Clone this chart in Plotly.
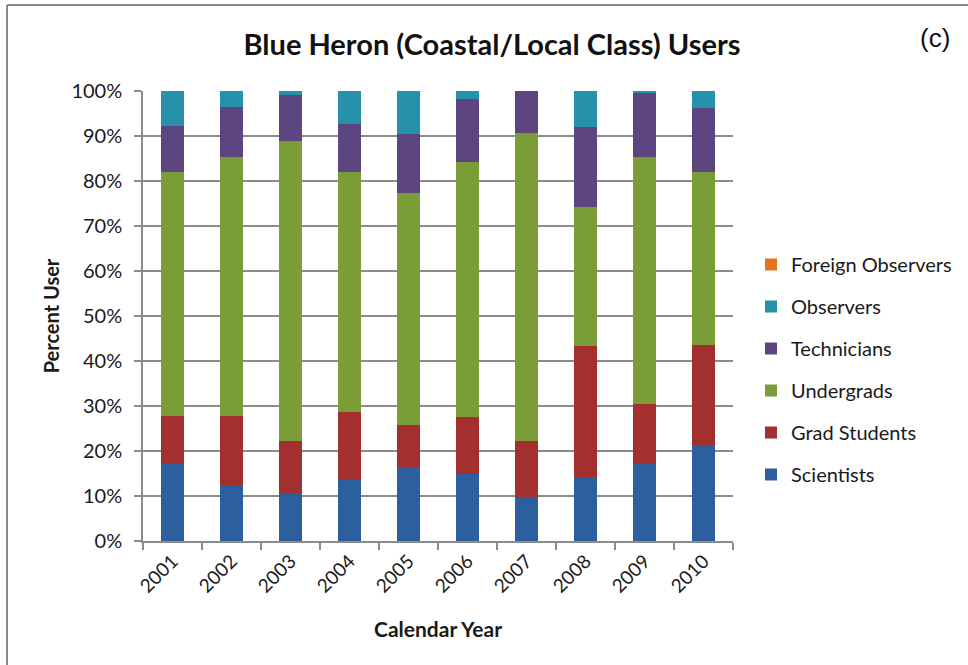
import plotly.graph_objects as go

years = ["2001", "2002", "2003", "2004", "2005", "2006", "2007", "2008", "2009", "2010"]

# Percent of users per category, per calendar year (stacked to 100%)
scientists = [17.2, 12.4, 10.7, 13.6, 16.5, 15.0, 9.7, 14.2, 17.4, 21.3]
grad_students = [10.5, 15.3, 11.5, 15.1, 9.2, 12.5, 12.6, 29.2, 13.0, 22.2]
undergrads = [54.4, 57.6, 66.7, 53.4, 51.7, 56.8, 68.3, 30.9, 54.9, 38.4]
technicians = [10.2, 11.2, 10.2, 10.5, 13.0, 13.9, 9.4, 17.6, 14.3, 14.4]
observers = [7.7, 3.5, 0.9, 7.4, 9.6, 1.8, 0.0, 8.1, 0.4, 3.7]
foreign_observers = [0, 0, 0, 0, 0, 0, 0, 0, 0, 0]

series = [
    ("Scientists", scientists, "#2d5f9e"),
    ("Grad Students", grad_students, "#a3302f"),
    ("Undergrads", undergrads, "#7b9d37"),
    ("Technicians", technicians, "#5d4580"),
    ("Observers", observers, "#2790aa"),
    ("Foreign Observers", foreign_observers, "#e4721c"),
]

FONT = "Lato, Carlito, Calibri, sans-serif"
GRID = "#8c8c8c"

fig = go.Figure()
n = len(series)
for i, (name, vals, color) in enumerate(series):
    fig.add_trace(go.Bar(
        x=years,
        y=vals,
        name=name,
        legendgroup=name,
        legendrank=n - i,  # top of the stack listed first
        marker=dict(color=color, line=dict(width=0)),
    ))

W, H = 968, 665
L, R, T, B = 143, 235, 91, 124
pw = W - L - R
ph = H - T - B

def px_x(p):
    return (p - L) / pw

def px_y(p):
    return (H - B - p) / ph

fig.update_layout(
    width=W,
    height=H,
    barmode="stack",
    bargap=0.6,
    margin=dict(l=L, r=R, t=T, b=B, autoexpand=False),
    paper_bgcolor="white",
    plot_bgcolor="white",
    font=dict(family=FONT, color="#1a1a1a", size=19),
    title=dict(
        text="<b>Blue Heron (Coastal/Local Class) Users</b>",
        x=492 / W, xanchor="center",
        y=1 - 45 / H, yanchor="middle",
        font=dict(family=FONT, size=29, color="#111111"),
    ),
    legend=dict(
        traceorder="grouped",
        tracegroupgap=13,
        x=px_x(751), xanchor="left",
        y=px_y(245), yanchor="top",
        font=dict(family=FONT, size=20, color="#1a1a1a"),
        itemwidth=30,
        bgcolor="rgba(0,0,0,0)",
    ),
    xaxis=dict(
        type="category",
        showgrid=False,
        showline=True, linecolor=GRID, linewidth=1.5,
        ticks="outside", tickson="boundaries", ticklen=7, tickcolor=GRID, tickwidth=1.5,
        tickangle=-45,
        tickfont=dict(family=FONT, size=19, color="#1a1a1a"),
        title=dict(text="<b>Calendar Year</b>", font=dict(family=FONT, size=21), standoff=27),
    ),
    yaxis=dict(
        range=[0, 100],
        dtick=10,
        ticksuffix="%",
        showgrid=True, gridcolor=GRID, gridwidth=1.5,
        showline=True, linecolor=GRID, linewidth=1.5,
        ticks="outside", ticklen=7, tickcolor=GRID, tickwidth=1.5,
        ticklabelstandoff=8,
        tickfont=dict(family=FONT, size=20, color="#1a1a1a"),
        zeroline=False,
        title=dict(text="<b>Percent User</b>", font=dict(family=FONT, size=20), standoff=6),
    ),
    annotations=[
        dict(
            text="(c)", xref="paper", yref="paper",
            x=px_x(935), y=px_y(38), xanchor="center", yanchor="middle",
            showarrow=False,
            font=dict(family="Liberation Sans, Arial, sans-serif", size=26, color="#111111"),
        )
    ],
    shapes=[
        # outer chart frame (top and left edges)
        dict(type="line", xref="paper", yref="paper",
             x0=px_x(7), x1=px_x(W + 5), y0=px_y(5), y1=px_y(5),
             line=dict(color="#8a8a8a", width=2)),
        dict(type="line", xref="paper", yref="paper",
             x0=px_x(7), x1=px_x(7), y0=px_y(5), y1=px_y(H + 5),
             line=dict(color="#8a8a8a", width=2)),
    ],
)

fig.write_html("out.html")
